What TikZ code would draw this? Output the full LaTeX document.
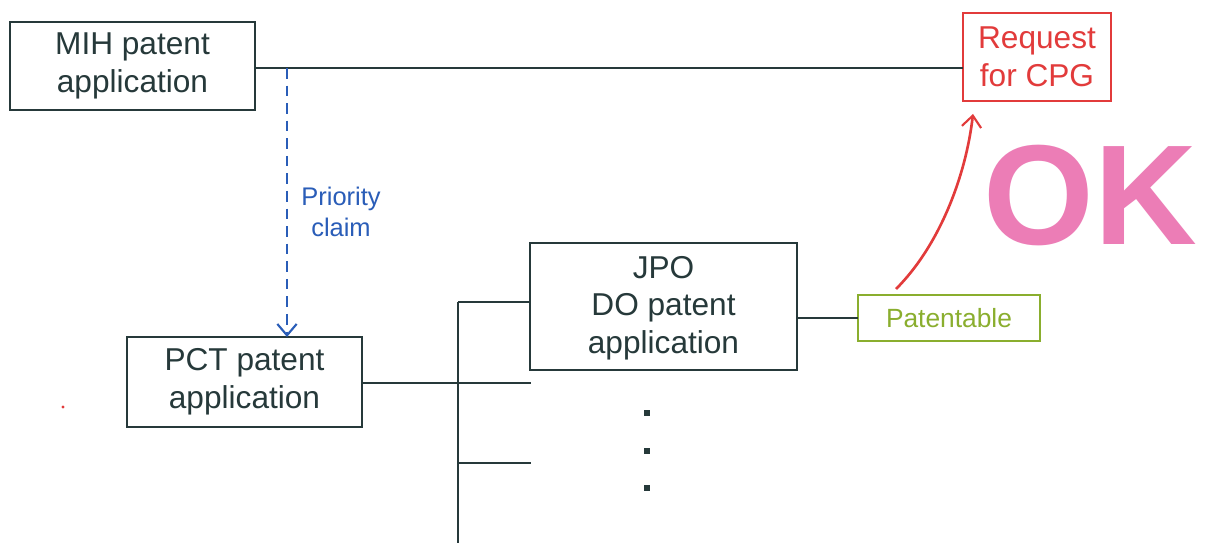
\documentclass[tikz,border=0pt]{standalone}
\usepackage{fontspec}
\setmainfont{Liberation Sans}
\usetikzlibrary{arrows.meta}
\definecolor{ink}{HTML}{26393A}
\definecolor{claimblue}{HTML}{2A5DB8}
\definecolor{reqred}{HTML}{E23B3B}
\definecolor{patgreen}{HTML}{8AAE2E}
\definecolor{okpink}{HTML}{EC7DB6}
\tikzset{
  box/.style={draw=ink, line width=1.4pt, rectangle, inner sep=0pt, outer sep=0pt,
    align=center, text=ink, font=\fontsize{18}{21.5}\selectfont},
  wire/.style={draw=ink, line width=1.4pt},
  barb/.style={-{Straight Barb[length=6.5pt,width=11pt,line width=1.2pt]}},
}
\begin{document}
\begin{tikzpicture}[x=0.02cm,y=-0.02cm]
  % canvas
  \fill[white] (0,0) rectangle (1207,543);
  \useasboundingbox (0,0) rectangle (1207,543);

  % boxes
  \node[box, minimum width=4.9cm, minimum height=1.76cm] (mih) at (132.5,66)
    {MIH patent\\application};
  \node[box, draw=reqred, text=reqred, line width=1.1pt, minimum width=2.96cm, minimum height=1.76cm]
    (req) at (1037,57) {Request\\for CPG};
  \node[box, minimum width=4.7cm, minimum height=1.8cm] (pct) at (244.5,382)
    {PCT patent\\application};
  \node[box, minimum width=5.34cm, minimum height=2.54cm, text depth=2pt] (jpo) at (663.5,306.5)
    {JPO\\DO patent\\application};
  \node[box, draw=patgreen, text=patgreen, line width=1.1pt, minimum width=3.64cm, minimum height=0.92cm,
    font=\fontsize{15}{18}\selectfont] (pat) at (949,318) {Patentable};

  % helper points
  \coordinate (top) at (0,68);
  \coordinate (pc) at (287,68);
  \coordinate (bustop) at (458,302);
  \coordinate (busbot) at (458,543);
  \coordinate (stubA) at (531,383);
  \coordinate (stubB) at (531,463);
  \coordinate (okstart) at (896,289);
  \coordinate (oktip) at (973,114);

  % MIH application to CPG request
  \draw[wire] (mih.east |- top) -- (req.west |- top);

  % priority claim
  \draw[claimblue, line width=1.3pt, dash pattern=on 6pt off 4pt, barb] (pc) -- (pct.north -| pc);
  \node[text=claimblue, align=center, font=\fontsize{14.5}{18}\selectfont] (claim) at (341,212)
    {Priority\\claim};

  % national phase entries
  \draw[wire] (pct.east |- stubA) -- (stubA);
  \draw[wire] (bustop) -- (busbot);
  \draw[wire] (bustop) -- (jpo.west |- bustop);
  \draw[wire] (stubB -| bustop) -- (stubB);
  \draw[wire] (jpo.east |- pat.west) -- (pat.west);

  % further entries
  \foreach \y [count=\i] in {413,451,488}
    \node[fill=ink, inner sep=0pt, minimum size=3.2pt] (dot\i) at (647,\y) {};

  % patentable -> request
  \draw[reqred, line width=1.5pt, barb] (okstart) .. controls (940,245) and (966,175) .. (oktip);
  \node[text=okpink, anchor=base west, inner sep=0pt, font=\fontsize{81}{81}\bfseries\selectfont]
    (ok) at (983,245) {OK};

  % stray mark
  \fill[reqred] (63,407) circle (1.6);
\end{tikzpicture}
\end{document}
